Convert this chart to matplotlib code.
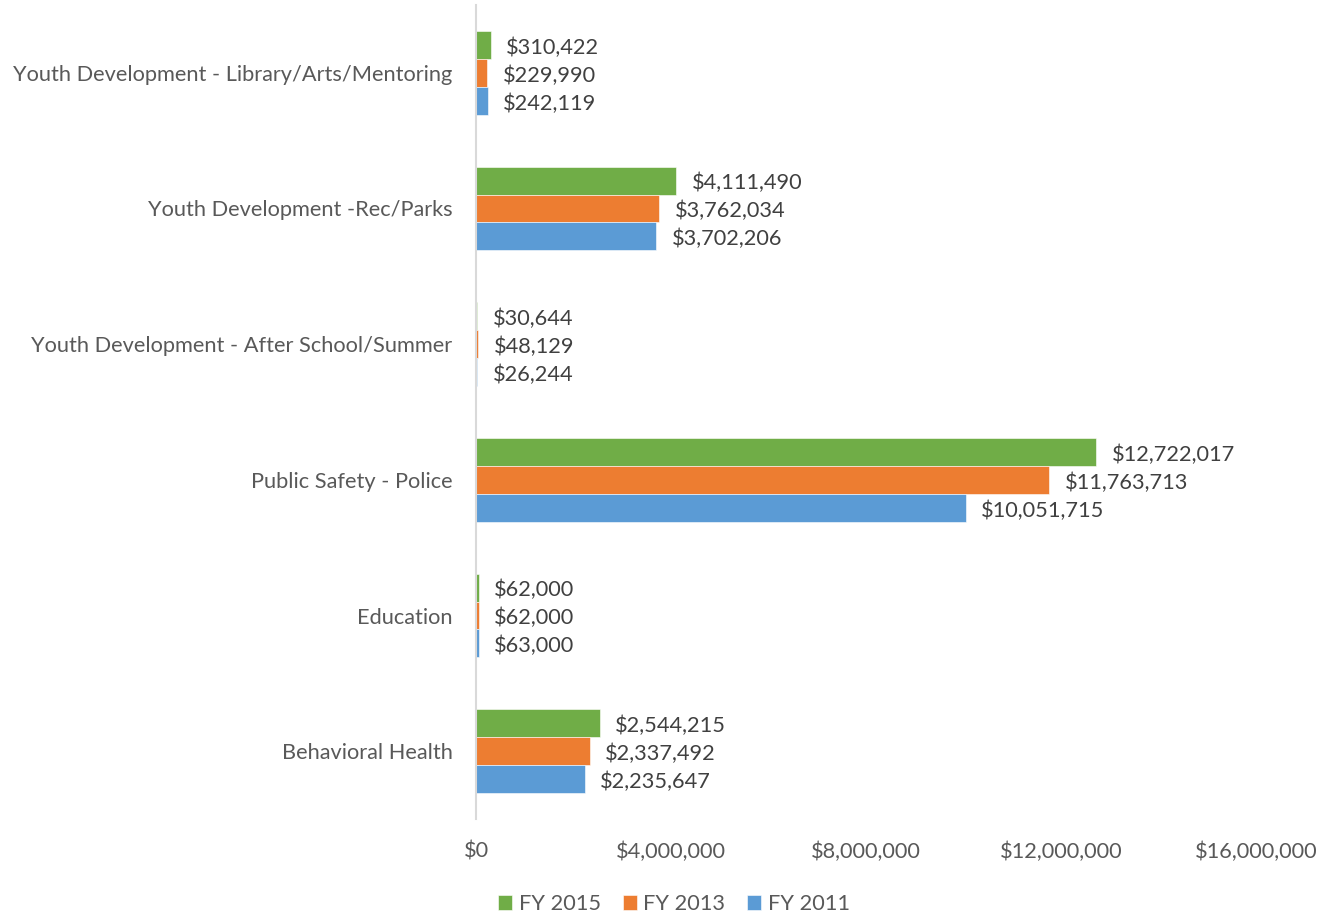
import matplotlib
matplotlib.use("Agg")
import matplotlib.pyplot as plt
import numpy as np

categories = [
    "Youth Development - Library/Arts/Mentoring",
    "Youth Development -Rec/Parks",
    "Youth Development - After School/Summer",
    "Public Safety - Police",
    "Education",
    "Behavioral Health",
]
fy2015 = [310422, 4111490, 30644, 12722017, 62000, 2544215]
fy2013 = [229990, 3762034, 48129, 11763713, 62000, 2337492]
fy2011 = [242119, 3702206, 26244, 10051715, 63000, 2235647]
x_ticks = [0, 4000000, 8000000, 12000000, 16000000]

series = [
    ("FY 2015", fy2015, "#70AD47"),
    ("FY 2013", fy2013, "#ED7D31"),
    ("FY 2011", fy2011, "#5B9BD5"),
]

plt.rcParams["font.family"] = ["Lato", "DejaVu Sans"]
text_color = "#595959"
fs = 15.7

fig = plt.figure(figsize=(13.36, 9.16), dpi=100)
ax = fig.add_axes([476 / 1336, 1 - 819 / 916, 780 / 1336, 814 / 916])

bar_h = 0.206
y = np.arange(len(categories))
handles = []
for i, (name, vals, color) in enumerate(series):
    pos = y + (i - 1) * bar_h
    bars = ax.barh(pos, vals, height=bar_h, color=color, label=name,
                   edgecolor="white", linewidth=0.4)
    handles.append(bars)
    for b, v in zip(bars, vals):
        ax.annotate(f"${v:,}", (v, b.get_y() + b.get_height() / 2),
                    xytext=(11, -2), textcoords="offset points",
                    va="center", ha="left", fontsize=fs, color="#404040")

ax.set_ylim(len(categories) - 0.5, -0.5)
ax.set_xlim(0, 16000000)
ax.set_yticks(y)
ax.set_yticklabels(categories, fontsize=fs, color=text_color)
ax.set_xticks(x_ticks)
ax.set_xticklabels([f"${t:,}" for t in x_ticks], fontsize=fs, color=text_color)
ax.tick_params(axis="both", length=0)
ax.tick_params(axis="x", pad=16)
ax.tick_params(axis="y", pad=17)

for side in ["top", "right", "bottom"]:
    ax.spines[side].set_visible(False)
ax.spines["left"].set_color("#D9D9D9")
ax.spines["left"].set_linewidth(1.5)

leg = fig.legend(handles=handles, loc="center", bbox_to_anchor=(674 / 1336, 1 - 904 / 916),
                 ncol=3, frameon=False, fontsize=fs, handlelength=0.65, handleheight=0.65,
                 handletextpad=0.3, columnspacing=1.0)
for t in leg.get_texts():
    t.set_color(text_color)

fig.savefig("out.png", dpi=100)
